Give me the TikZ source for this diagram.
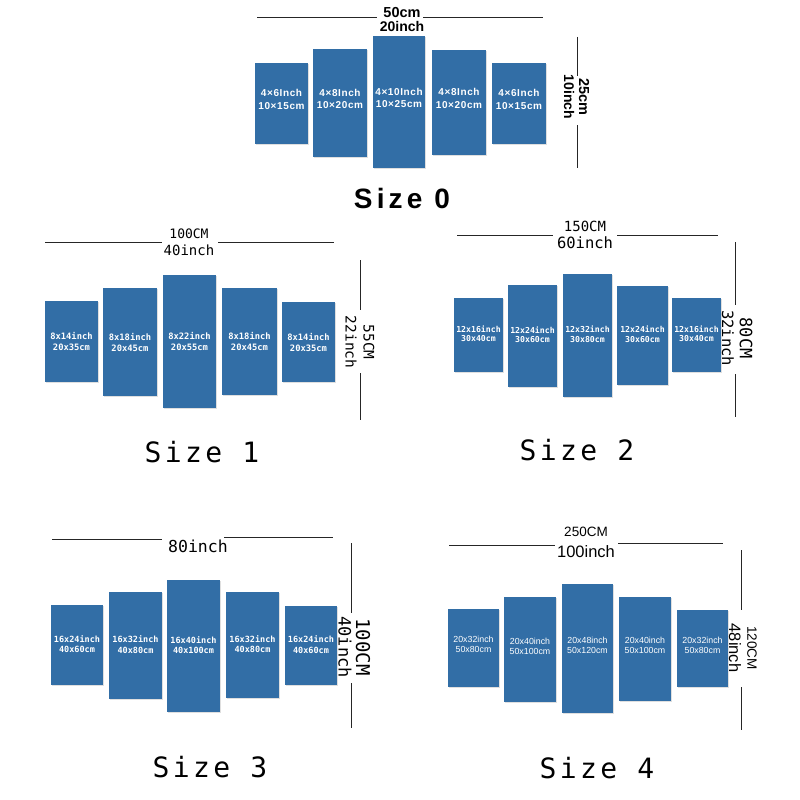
\documentclass[tikz,border=0pt]{standalone}
\usepackage{fontspec}
\setmainfont{Liberation Sans}
\newfontfamily\mono{DejaVu Sans Mono}
\newfontfamily\monosp{DejaVu Sans Mono}[LetterSpace=12]
\newfontfamily\boldsp{Liberation Sans}[LetterSpace=15]
\newfontfamily\boldsmall{Liberation Sans}[LetterSpace=6]
\usetikzlibrary{shadows}
\definecolor{pblue}{RGB}{50,110,166}
\tikzset{
  panel/.style={fill=pblue,draw=none,inner sep=0pt,
    drop shadow={shadow xshift=1.2pt,shadow yshift=-1.2pt,opacity=0.25}},
  ptxt/.style={text=white,align=center,inner sep=0pt},
  t0/.style={ptxt,yshift=4pt,font=\boldsmall\bfseries\fontsize{10}{12.5}\selectfont},
  t1/.style={ptxt,font=\mono\bfseries\fontsize{8.8}{11}\selectfont},
  t2/.style={ptxt,yshift=1.5pt,font=\mono\bfseries\fontsize{8.2}{9.5}\selectfont},
  t3/.style={ptxt,yshift=1pt,font=\mono\bfseries\fontsize{8.5}{10.5}\selectfont},
  t4/.style={ptxt,yshift=3.5pt,font=\fontsize{8.8}{10}\selectfont},
  dim/.style={line width=0.9pt,draw=black!85},
  lab/.style={inner sep=0pt,text=black},
  sizelab/.style={inner sep=0pt,font=\monosp\fontsize{28}{30}\selectfont},
}
\newcommand\pnl[8]{%
  \pgfmathsetmacro\pw{#4-#2}\pgfmathsetmacro\ph{#5-#3}%
  \node[panel,minimum width=\pw pt,minimum height=\ph pt] (#1) at ({(#2+#4)/2},{(#3+#5)/2}) {};
  \node[#6] (#1t) at (#1.center) {#7\\#8};}
\begin{document}
\begin{tikzpicture}[x=1pt,y=-1pt]
\useasboundingbox[fill=white] (0,0) rectangle (800,800);

% ---------------- Size 0
\pnl{a1}{255}{63}{308}{144}{t0}{4×6Inch}{10×15cm}
\pnl{a2}{313}{49}{367}{157}{t0}{4×8Inch}{10×20cm}
\pnl{a3}{373}{36}{425}{168}{t0}{4×10Inch}{10×25cm}
\pnl{a4}{432}{50}{486}{155}{t0}{4×8Inch}{10×20cm}
\pnl{a5}{492}{63}{546}{144}{t0}{4×6Inch}{10×15cm}
\draw[dim] (257,17) -- (377,17) (423,17) -- (543,17);
\draw[dim] (577,37) -- (577,76) (577,125) -- (577,168);
\node[lab,font=\bfseries\fontsize{14.5}{14.5}\selectfont] (a-w1) at (402,13) {50cm};
\node[lab,font=\bfseries\fontsize{14}{14}\selectfont] (a-w2) at (402,26) {20inch};
\node[lab,rotate=-90,font=\bfseries\fontsize{14.5}{14.5}\selectfont] (a-h1) at (584,97) {25cm};
\node[lab,rotate=-90,font=\bfseries\fontsize{14}{14}\selectfont] (a-h2) at (569,97) {10inch};
\node[sizelab,font=\boldsp\bfseries\fontsize{28}{30}\selectfont] (a-s) at (402,198) {Size 0};

% ---------------- Size 1
\pnl{b1}{45}{301}{98}{382}{t1}{8x14inch}{20x35cm}
\pnl{b2}{103}{288}{157}{396}{t1}{8x18inch}{20x45cm}
\pnl{b3}{163}{275}{216}{408}{t1}{8x22inch}{20x55cm}
\pnl{b4}{222}{288}{277}{395}{t1}{8x18inch}{20x45cm}
\pnl{b5}{282}{302}{335}{382}{t1}{8x14inch}{20x35cm}
\draw[dim] (45,242) -- (162,242) (218,242) -- (334,242);
\draw[dim] (360,260) -- (360,310) (360,373) -- (360,420);
\node[lab,font=\mono\fontsize{13}{13}\selectfont] (b-w1) at (189,234) {100CM};
\node[lab,font=\mono\fontsize{14}{14}\selectfont] (b-w2) at (189,250) {40inch};
\node[lab,rotate=-90,font=\mono\fontsize{14.5}{14.5}\selectfont] (b-h1) at (369,342) {55CM};
\node[lab,rotate=-90,font=\mono\fontsize{14.5}{14.5}\selectfont] (b-h2) at (351,342) {22inch};
\node[sizelab] (b-s) at (202,452) {Size 1};

% ---------------- Size 2
\pnl{c1}{454}{298}{503}{372}{t2}{12x16inch}{30x40cm}
\pnl{c2}{508}{285}{557}{387}{t2}{12x24inch}{30x60cm}
\pnl{c3}{563}{274}{612}{397}{t2}{12x32inch}{30x80cm}
\pnl{c4}{617}{286}{668}{385}{t2}{12x24inch}{30x60cm}
\pnl{c5}{672}{298}{721}{372}{t2}{12x16inch}{30x40cm}
\draw[dim] (457,235) -- (553,235) (617,235) -- (718,235);
\draw[dim] (735,242) -- (735,305) (735,374) -- (735,417);
\node[lab,font=\mono\fontsize{14}{14}\selectfont] (c-w1) at (585,226) {150CM};
\node[lab,font=\mono\fontsize{15.5}{15.5}\selectfont] (c-w2) at (585,243) {60inch};
\node[lab,rotate=-90,font=\mono\fontsize{17}{17}\selectfont] (c-h1) at (746,338) {80CM};
\node[lab,rotate=-90,font=\mono\fontsize{15.5}{15.5}\selectfont] (c-h2) at (728,338) {32inch};
\node[sizelab] (c-s) at (577,450) {Size 2};

% ---------------- Size 3
\pnl{d1}{51}{605}{103}{685}{t3}{16x24inch}{40x60cm}
\pnl{d2}{109}{592}{162}{699}{t3}{16x32inch}{40x80cm}
\pnl{d3}{167}{580}{220}{712}{t3}{16x40inch}{40x100cm}
\pnl{d4}{226}{592}{279}{698}{t3}{16x32inch}{40x80cm}
\pnl{d5}{285}{606}{337}{685}{t3}{16x24inch}{40x60cm}
\draw[dim] (52,539) -- (162,539) (224,537) -- (333,537);
\draw[dim] (351,543) -- (351,613) (351,683) -- (351,728);
\node[lab,font=\mono\fontsize{16.5}{16.5}\selectfont] (d-w) at (198,546) {80inch};
\node[lab,rotate=-90,font=\mono\fontsize{19}{19}\selectfont] (d-h1) at (363,647) {100CM};
\node[lab,rotate=-90,font=\mono\fontsize{17}{17}\selectfont] (d-h2) at (345,647) {40inch};
\node[sizelab] (d-s) at (210,767) {Size 3};

% ---------------- Size 4
\pnl{e1}{448}{609}{499}{687}{t4}{20x32inch}{50x80cm}
\pnl{e2}{504}{597}{556}{702}{t4}{20x40inch}{50x100cm}
\pnl{e3}{562}{584}{613}{713}{t4}{20x48inch}{50x120cm}
\pnl{e4}{619}{597}{671}{701}{t4}{20x40inch}{50x100cm}
\pnl{e5}{677}{610}{728}{687}{t4}{20x32inch}{50x80cm}
\draw[dim] (449,545) -- (555,545) (618,543) -- (723,543);
\draw[dim] (741,550) -- (741,610) (741,687) -- (741,730);
\node[lab,font=\fontsize{13.5}{13.5}\selectfont] (e-w1) at (586,532) {250CM};
\node[lab,font=\fontsize{16.5}{16.5}\selectfont] (e-w2) at (586,552) {100inch};
\node[lab,rotate=-90,font=\fontsize{13.5}{13.5}\selectfont] (e-h1) at (752,648) {120CM};
\node[lab,rotate=-90,font=\fontsize{16.5}{16.5}\selectfont] (e-h2) at (735,648) {48inch};
\node[sizelab] (e-s) at (597,768) {Size 4};
\end{tikzpicture}
\end{document}
